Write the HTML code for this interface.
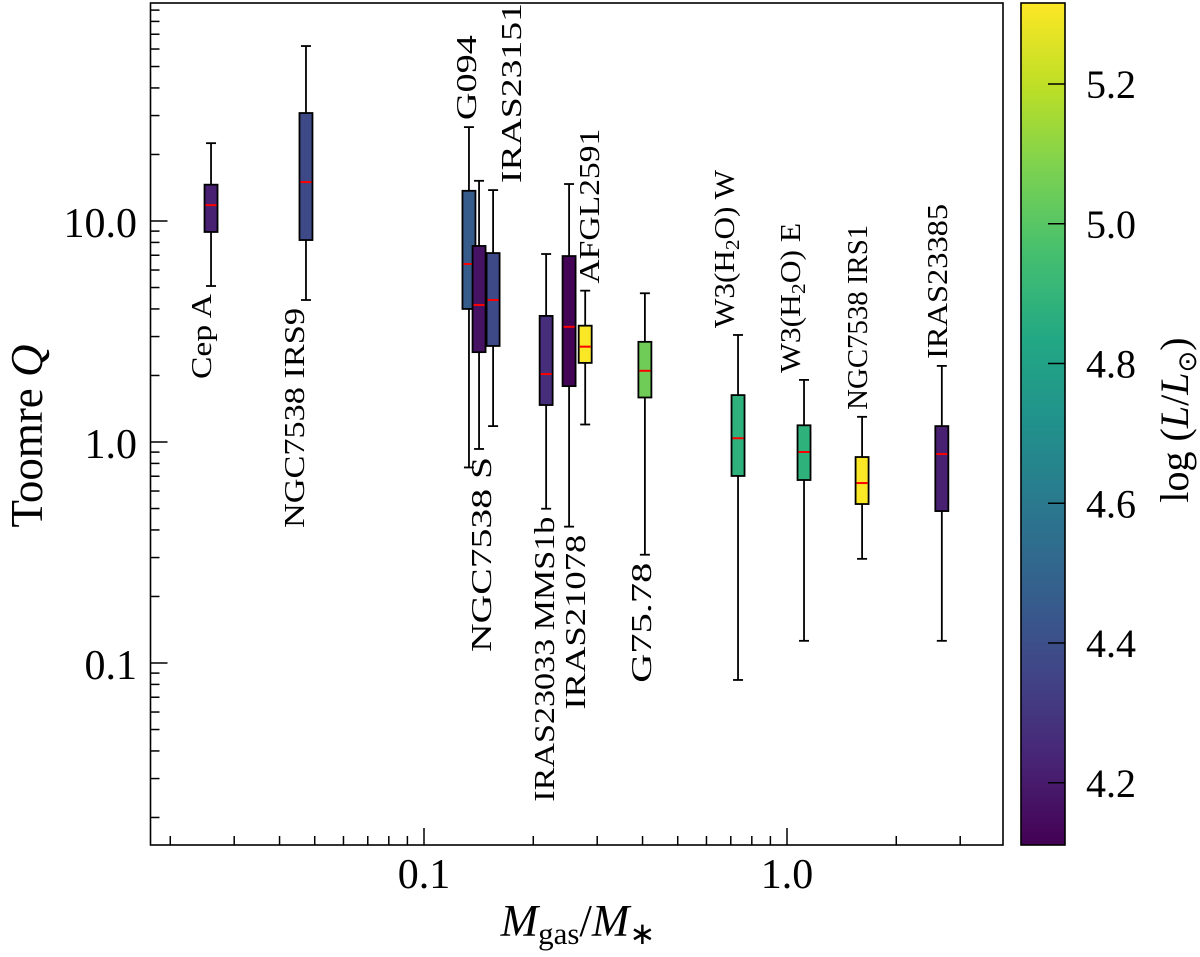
<!DOCTYPE html>
<html><head><meta charset="utf-8"><style>
body{margin:0;background:#fff}
svg{display:block}
text{font-family:"Liberation Serif",serif;fill:#000}
</style></head><body>
<svg id="chart" width="1200" height="957" viewBox="0 0 1200 957">
<defs>
<linearGradient id="viridis" x1="0" y1="1" x2="0" y2="0">
<stop offset="0" stop-color="#440154"/><stop offset="0.1" stop-color="#482475"/><stop offset="0.2" stop-color="#414487"/><stop offset="0.3" stop-color="#355f8d"/><stop offset="0.4" stop-color="#2a788e"/><stop offset="0.5" stop-color="#21918c"/><stop offset="0.6" stop-color="#22a884"/><stop offset="0.7" stop-color="#44bf70"/><stop offset="0.8" stop-color="#7ad151"/><stop offset="0.9" stop-color="#bddf26"/><stop offset="1" stop-color="#fde725"/>
</linearGradient>
</defs>
<g id="plot"></g>
<g id="cbar"></g>
</svg>
<script>
const names = ["Cep A","NGC7538 IRS9","G094","NGC7538 S","IRAS23151","IRAS23033 MMS1b","IRAS21078","AFGL2591","G75.78","W3(H2O) W","W3(H2O) E","NGC7538 IRS1","IRAS23385"];
const massRatio = [0.0259,0.0473,0.133,0.1418,0.155,0.217,0.251,0.278,0.406,0.733,1.114,1.61,2.67];
const whiskerHigh = [22.5,61.9,26.6,15.2,13.8,7.09,14.7,4.84,4.71,3.05,1.91,1.30,2.21];
const q3 = [14.6,30.8,13.7,7.71,7.16,3.72,6.94,3.36,2.84,1.63,1.19,0.855,1.18];
const medianQ = [11.8,15.0,6.39,4.17,4.39,2.03,3.32,2.70,2.10,1.04,0.901,0.652,0.882];
const q1 = [8.92,8.20,4.00,2.55,2.72,1.47,1.79,2.28,1.59,0.702,0.673,0.524,0.487];
const whiskerLow = [5.08,4.39,0.767,0.93,1.18,0.499,0.414,1.20,0.309,0.0838,0.126,0.296,0.126];
const logLum = [4.22,4.38,4.46,4.17,4.38,4.27,4.12,5.31,5.05,4.88,4.88,5.31,4.22];
const labelAbove = [false,false,true,false,true,false,false,true,false,true,true,true,true];
const labelDx = [0,-2,7,12,28,8,16,14,6,-4,-4,5,5];
const labelLen = [85,220,85,195,180,285,175,155,120,158,150,185,155];
const yTicks = [0.1,1.0,10.0];
const yTickLabels = ["0.1","1.0","10.0"];
const xTicks = [0.1,1.0];
const xTickLabels = ["0.1","1.0"];
const cTicks = [4.2,4.4,4.6,4.8,5.0,5.2];
const cTickLabels = ["4.2","4.4","4.6","4.8","5.0","5.2"];

const NS="http://www.w3.org/2000/svg";
const PL=150.5,PR=1003,PT=3,PB=845;
const X=v=>424+363*(Math.log10(v)+1);
const Y=v=>442-221*Math.log10(v);
const CMIN=4.111,CMAX=5.316,CT=3,CB=845,CL=1021,CR=1065;
const C=v=>CB-(v-CMIN)/(CMAX-CMIN)*(CB-CT);
const vir=["#440154","#482475","#414487","#355f8d","#2a788e","#21918c","#22a884","#44bf70","#7ad151","#bddf26","#fde725"];
function hex(h){return [1,3,5].map(i=>parseInt(h.substr(i,2),16));}
function color(v){let t=Math.max(0,Math.min(1,(v-CMIN)/(CMAX-CMIN)))*10;let i=Math.min(9,Math.floor(t)),f=t-i;
 const a=hex(vir[i]),b=hex(vir[i+1]);return "rgb("+a.map((x,k)=>Math.round(x+(b[k]-x)*f)).join(",")+")";}
function el(tag,attrs,parent){const e=document.createElementNS(NS,tag);for(const k in attrs)e.setAttribute(k,attrs[k]);parent.appendChild(e);return e;}
const plot=document.getElementById('plot'),cbar=document.getElementById('cbar');

const fr=el('rect',{x:PL,y:PT,width:PR-PL,height:PB-PT,fill:'none',stroke:'#000','stroke-width':1.6},plot);



for(let d=-2;d<=1;d++){for(let m=1;m<=9;m++){const v=m*Math.pow(10,d);const y=Y(v);if(y<PT||y>PB)continue;
 const t=el('line',{x1:PL,x2:PL+(m==1?17:9),y1:y,y2:y,stroke:'#000','stroke-width':1.5},plot);
 
 }}
yTicks.forEach((v,i)=>{const t=el('text',{x:137,y:Y(v)+16,'text-anchor':'end','font-size':42},plot);t.textContent=yTickLabels[i];
 
 });
for(let d=-2;d<=0;d++){for(let m=1;m<=9;m++){const v=m*Math.pow(10,d);const x=X(v);if(x<PL||x>PR)continue;
 const t=el('line',{x1:x,x2:x,y1:PB,y2:PB-(m==1?17:9),stroke:'#000','stroke-width':1.5},plot);
 
 }}
xTicks.forEach((v,i)=>{const t=el('text',{x:X(v),y:888,'text-anchor':'middle','font-size':42},plot);t.textContent=xTickLabels[i];
 
 });

names.forEach((n,i)=>{
 const g=el('g',{},plot);
 
 
 const x=X(massRatio[i]),w=13;
 el('line',{x1:x,x2:x,y1:Y(whiskerHigh[i]),y2:Y(q3[i]),stroke:'#000','stroke-width':1.8},g);
 el('line',{x1:x,x2:x,y1:Y(q1[i]),y2:Y(whiskerLow[i]),stroke:'#000','stroke-width':1.8},g);
 el('line',{x1:x-5,x2:x+5,y1:Y(whiskerHigh[i]),y2:Y(whiskerHigh[i]),stroke:'#000','stroke-width':1.8},g);
 el('line',{x1:x-5,x2:x+5,y1:Y(whiskerLow[i]),y2:Y(whiskerLow[i]),stroke:'#000','stroke-width':1.8},g);
 el('rect',{x:x-w/2,y:Y(q3[i]),width:w,height:Y(q1[i])-Y(q3[i]),fill:color(logLum[i]),stroke:'#000','stroke-width':1.8},g);
 el('line',{x1:x-w/2+1,x2:x+w/2-1,y1:Y(medianQ[i]),y2:Y(medianQ[i]),stroke:'#ff0000','stroke-width':2},g);
 const lx=x+labelDx[i];
 let ly,anchor;
 if(labelAbove[i]){ly=Y(whiskerHigh[i])-7;anchor='start';}else{ly=Y(whiskerLow[i])+8;anchor='end';}
 const t=el('text',{x:0,y:0,'font-size':29,'text-anchor':anchor,textLength:labelLen[i],lengthAdjust:'spacingAndGlyphs',transform:`translate(${lx},${ly}) rotate(-90)`},plot);
 
 
 const m=n.match(/^W3\(H2O\) (.)$/);
 if(m){t.appendChild(document.createTextNode('W3(H'));const s=el('tspan',{'font-size':20,dy:5},t);s.textContent='2';
   const s2=el('tspan',{dy:-5},t);s2.textContent='O) '+m[1];}
 else t.textContent=n;
});

const yt=el('text',{x:0,y:0,'font-size':45,'text-anchor':'middle',transform:'translate(42,436) rotate(-90)'},plot);
yt.innerHTML='Toomre <tspan font-style="italic">Q</tspan>';


const xt=el('text',{x:578,y:936,'font-size':45,'text-anchor':'middle'},plot);
xt.innerHTML='<tspan font-style="italic">M</tspan><tspan font-size="31" dy="8">gas</tspan><tspan dy="-8">/</tspan><tspan font-style="italic">M</tspan><tspan font-size="31" dy="8">∗</tspan>';



const cb=el('rect',{x:CL,y:CT,width:CR-CL,height:CB-CT,fill:'url(#viridis)',stroke:'#000','stroke-width':1.6},cbar);


cTicks.forEach((v,i)=>{const y=C(v);
 const l=el('line',{x1:CR-17,x2:CR,y1:y,y2:y,stroke:'#000','stroke-width':1.5},cbar);
 
 
 const t=el('text',{x:1086,y:y+14,'font-size':40},cbar);t.textContent=cTickLabels[i];
 
 });
const ct=el('text',{x:0,y:0,'font-size':40,'text-anchor':'middle',transform:'translate(1188,420) rotate(-90)'},cbar);
ct.innerHTML='log (<tspan font-style="italic">L</tspan>/<tspan font-style="italic">L</tspan><tspan font-size="26" dy="8">⊙</tspan><tspan dy="-8">)</tspan>';


</script>
</body></html>
